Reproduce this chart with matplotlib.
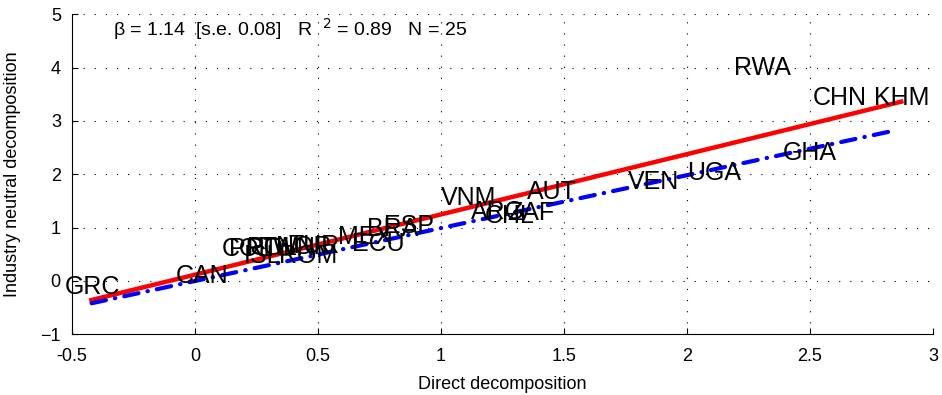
import matplotlib
matplotlib.use('Agg')
import matplotlib.pyplot as plt

plt.rcParams['font.family'] = ['Liberation Sans', 'DejaVu Sans']

# country labels and their coordinates (direct, industry neutral)
countries = ['GRC', 'CAN', 'COL', 'PRT', 'POL', 'TWN', 'NOR', 'TUR', 'ISL', 'ROM',
             'MEX', 'ECU', 'BRA', 'ESP', 'VNM', 'AUT', 'ARG', 'CHL', 'ZAF', 'VEN',
             'UGA', 'GHA', 'RWA', 'CHN', 'KHM']
direct = [-0.53, -0.08, 0.11, 0.14, 0.21, 0.26, 0.33, 0.38, 0.20, 0.34,
          0.58, 0.64, 0.70, 0.77, 1.00, 1.35, 1.12, 1.18, 1.27, 1.76,
          2.00, 2.39, 2.19, 2.51, 2.76]
neutral = [-0.12, 0.09, 0.60, 0.60, 0.62, 0.62, 0.64, 0.66, 0.47, 0.47,
           0.82, 0.70, 0.97, 1.02, 1.55, 1.66, 1.30, 1.21, 1.28, 1.85,
           2.02, 2.39, 4.00, 3.42, 3.42]

# fitted line and 45 degree line end points
fit_x = [-0.43, 2.88]
fit_y = [-0.37, 3.37]
diag_x = [-0.42, 2.845]
diag_y = [-0.42, 2.82]

fig = plt.figure(figsize=(9.42, 3.95), dpi=100)
ax = fig.add_axes([0.0764, 0.154, 0.914, 0.810])

ax.plot(fit_x, fit_y, color='red', lw=3.2, solid_capstyle='butt', zorder=3)
ax.plot(diag_x, diag_y, color='blue', lw=3, linestyle=(0, (3.5, 2.2, 0.1, 2.2)),
        dash_capstyle='round', zorder=3)

for c, x, y in zip(countries, direct, neutral):
    ax.text(x, y, c, fontsize=18, ha='left', va='center', zorder=4)

ax.text(-0.333, 4.72, '\u03b2 = 1.14  [s.e. 0.08]   R  $^{2}$ = 0.89   N = 25',
        fontsize=14, ha='left', va='center')

ax.set_xlim(-0.5, 3)
ax.set_ylim(-1, 5)
ax.set_xticks([-0.5, 0, 0.5, 1, 1.5, 2, 2.5, 3])
ax.set_xticklabels(['-0.5', '0', '0.5', '1', '1.5', '2', '2.5', '3'])
ax.set_yticks([-1, 0, 1, 2, 3, 4, 5])
ax.spines['top'].set_visible(False)
ax.spines['right'].set_visible(False)
ax.tick_params(direction='in', labelsize=13, length=4)
ax.tick_params(axis='x', pad=10)
ax.tick_params(axis='y', pad=8)
ax.grid(True, color='black', linestyle=(0, (1, 9)), lw=0.8)
ax.set_xlabel('Direct decomposition', fontsize=13, labelpad=8)
ax.set_ylabel('Industry neutral decomposition', fontsize=13, labelpad=14)

fig.savefig('out.png', dpi=100)
